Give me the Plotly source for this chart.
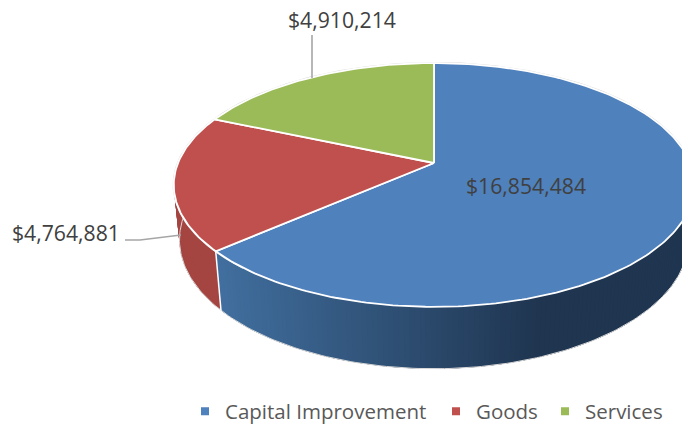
import math
import plotly.graph_objects as go

categories = ["Capital Improvement", "Goods", "Services"]
values = [16854484, 4764881, 4910214]
top_colors = ["#4F81BD", "#C0504D", "#9BBB59"]
wall_left = ["#416F9F", "#A54541", "#7C9647"]
wall_right = ["#1F3550", "#973D3A", "#7C9647"]
label_font = "Open Sans"

# perspective model of the pie disc
CX, CY, R = 434.0, 163.0, 256.0
A, C = -88.6, 0.18
E, F = 0.0218, 58.8
GRAD_X0, GRAD_X1 = 216.0, 540.0


def proj(theta, z=0.0, r=1.0):
    u, v = r * math.sin(theta), r * math.cos(theta)
    d = 1 + C * v + E * z
    return CX + R * u / d, (A * v + CY + F * z) / d


def hex_rgb(h):
    return [int(h[i:i + 2], 16) for i in (1, 3, 5)]


def mix(c0, c1, t):
    t = max(0.0, min(1.0, t))
    a, b = hex_rgb(c0), hex_rgb(c1)
    return "rgb(%d,%d,%d)" % tuple(round(a[i] + (b[i] - a[i]) * t) for i in range(3))


total = sum(values)
angles = [0.0]
for val in values:
    angles.append(angles[-1] + 2 * math.pi * val / total)

fig = go.Figure()

# walls: each facet overlaps the next one so that no seams show
for i in range(3):
    a0, a1 = angles[i], angles[i + 1]
    n = max(2, int((a1 - a0) / math.radians(1.0)))
    step = (a1 - a0) / n
    for k in range(n):
        t0 = a0 + step * k
        t1 = a0 + step * min(n, k + 3)
        if math.cos(t0 + step / 2) > 0.25:
            continue
        p = [proj(t0), proj(t1), proj(t1, 1), proj(t0, 1)]
        xm = proj(t0 + step / 2)[0]
        col = mix(wall_left[i], wall_right[i], (xm - GRAD_X0) / (GRAD_X1 - GRAD_X0))
        fig.add_trace(go.Scatter(
            x=[q[0] for q in p] + [p[0][0]], y=[q[1] for q in p] + [p[0][1]],
            mode="lines", fill="toself", fillcolor=col,
            line=dict(width=0), hoverinfo="skip", showlegend=False))

# bottom rim highlight
rim = [math.radians(x) for x in range(70, 292)]
fig.add_trace(go.Scatter(
    x=[proj(t, 1)[0] for t in rim], y=[proj(t, 1)[1] for t in rim], mode="lines",
    line=dict(color="#D9D9D9", width=1), hoverinfo="skip", showlegend=False))

# faint rim round the back of the top disc
back = [math.radians(x) for x in range(-140, 91)]
fig.add_trace(go.Scatter(
    x=[proj(t)[0] for t in back], y=[proj(t)[1] for t in back], mode="lines",
    line=dict(color="#D9D9D9", width=2.2), hoverinfo="skip", showlegend=False))

# white divider at the goods / capital wall edge
px0, py0 = proj(angles[1])
px1, py1 = proj(angles[1], 1)
fig.add_trace(go.Scatter(x=[px0, px1], y=[py0, py1], mode="lines",
                         line=dict(color="#FFFFFF", width=1.5),
                         hoverinfo="skip", showlegend=False))

# top slices
for i in range(3):
    a0, a1 = angles[i], angles[i + 1]
    n = max(2, int((a1 - a0) / math.radians(1)))
    pts = [proj(a0 + (a1 - a0) * k / n) for k in range(n + 1)]
    xs = [CX] + [q[0] for q in pts] + [CX]
    ys = [CY] + [q[1] for q in pts] + [CY]
    fig.add_trace(go.Scatter(
        x=xs, y=ys, mode="lines", fill="toself", fillcolor=top_colors[i],
        line=dict(color="#FFFFFF", width=1.8), name=categories[i],
        hoverinfo="skip", showlegend=False))

# leader lines
fig.add_trace(go.Scatter(x=[312, 312], y=[35, 78], mode="lines",
                         line=dict(color="#A6A6A6", width=1.6),
                         hoverinfo="skip", showlegend=False))
fig.add_trace(go.Scatter(x=[125, 140, 181], y=[240, 240, 235], mode="lines",
                         line=dict(color="#A6A6A6", width=1.6),
                         hoverinfo="skip", showlegend=False))

# legend entries, one legend per category so each sits exactly where the reference has it
legend_ids = ["legend", "legend2", "legend3"]
for i in range(3):
    fig.add_trace(go.Scatter(x=[None], y=[None], mode="markers", name=categories[i],
                             legend=legend_ids[i],
                             marker=dict(symbol="square", size=8, color=top_colors[i]),
                             showlegend=True))

label_pos = [(526, 185), (66, 232), (342, 19)]
for val, (lx, ly) in zip(values, label_pos):
    fig.add_annotation(x=lx, y=ly, text="${:,}".format(val), showarrow=False,
                       xanchor="center", yanchor="middle",
                       font=dict(family=label_font, size=21.2, color="#404040", weight=500))

legend_x = [185, 436, 545]
legend_common = dict(orientation="h", y=-0.0153, xanchor="left", yanchor="bottom",
                     font=dict(family=label_font, size=20.5, color="#595959"),
                     bgcolor="rgba(0,0,0,0)")

fig.update_layout(
    width=682, height=425, margin=dict(l=0, r=0, t=0, b=0, autoexpand=False),
    paper_bgcolor="white", plot_bgcolor="white",
    xaxis=dict(range=[0, 682], visible=False, fixedrange=True),
    yaxis=dict(range=[425, 0], visible=False, fixedrange=True),
    legend=dict(x=legend_x[0] / 682, **legend_common),
    legend2=dict(x=legend_x[1] / 682, **legend_common),
    legend3=dict(x=legend_x[2] / 682, **legend_common),
)

fig.write_html("out.html", config={"displayModeBar": False},
               post_script="document.body.style.margin='0';document.body.style.overflow='hidden';")
